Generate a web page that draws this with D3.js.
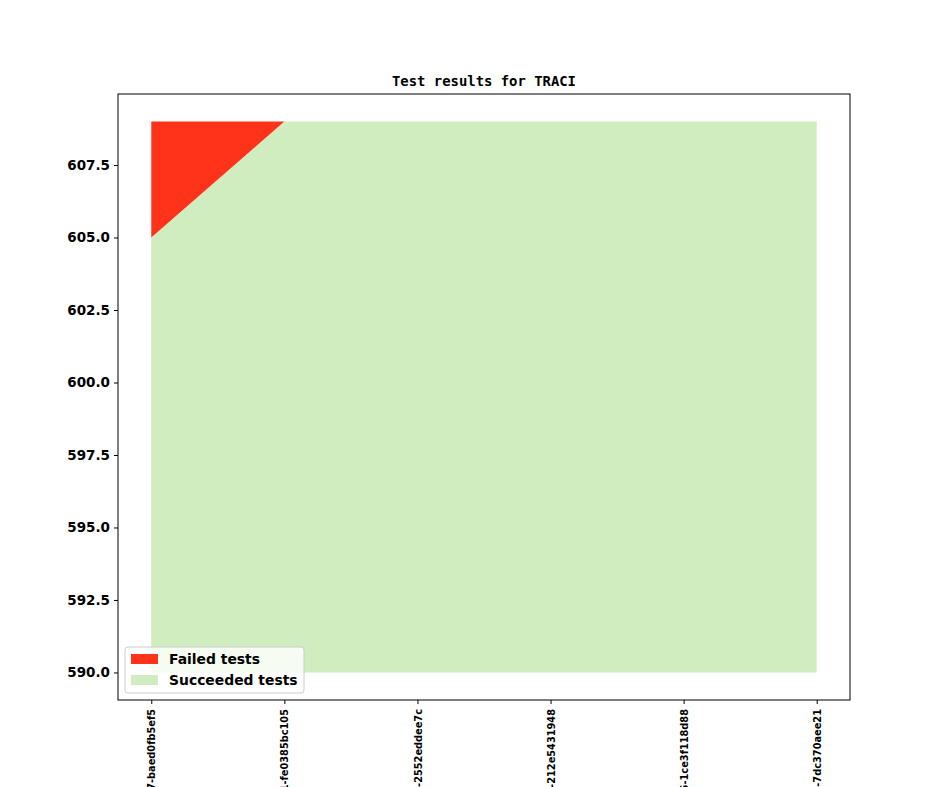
<!DOCTYPE html>
<html><head><meta charset="utf-8">
<script src="https://cdn.jsdelivr.net/npm/d3@7"></script>
<style>body{margin:0;background:#fff}</style>
</head><body>
<script>
const categories = ["v1_15_0+0117-baed0fb5ef5","v1_15_0+0131-fe0385bc105","v1_15_0+0148-2552eddee7c","v1_15_0+0162-212e5431948","v1_15_0+0175-1ce3f118d88","v1_15_0+0189-7dc370aee21"];
const succeeded = [605, 609, 609, 609, 609, 609];
const failed = [4, 0, 0, 0, 0, 0];
const baseline = 590;
const yTicks = [590.0, 592.5, 595.0, 597.5, 600.0, 602.5, 605.0, 607.5];
const seriesNames = ["Failed tests", "Succeeded tests"];
const colors = {failed: "#ff321a", succeeded: "#cfedbe"};

(function () {
const W = 944, H = 787;
const mL = 118, mR = 850, mT = 94, mB = 700;
const svg = d3.select("body").append("svg").attr("width", W).attr("height", H);

const n = categories.length;
const x = d3.scaleLinear().domain([-0.25, n - 1 + 0.25]).range([mL, mR]);
const yMin = baseline, yMax = d3.max(succeeded.map((s, i) => s + failed[i]));
const pad = (yMax - yMin) * 0.05;
const y = d3.scaleLinear().domain([yMin - pad, yMax + pad]).range([mB, mT]);

const idx = d3.range(n);
const areaSucc = d3.area().x(i => x(i)).y0(() => y(baseline)).y1(i => y(succeeded[i]));
const areaFail = d3.area().x(i => x(i)).y0(i => y(succeeded[i])).y1(i => y(succeeded[i] + failed[i]));

svg.append("path").datum(idx).attr("d", areaSucc).attr("fill", colors.succeeded);
svg.append("path").datum(idx).attr("d", areaFail).attr("fill", colors.failed);

svg.append("rect").attr("x", mL).attr("y", mT).attr("width", mR - mL).attr("height", mB - mT)
  .attr("fill", "none").attr("stroke", "#000").attr("stroke-width", 1);

const yAxis = d3.axisLeft(y).tickValues(yTicks).tickFormat(d3.format(".1f")).tickSize(4).tickPadding(4);
const gy = svg.append("g").attr("transform", `translate(${mL},0)`).call(yAxis);
gy.select(".domain").remove();
gy.selectAll("text").attr("font-family", "DejaVu Sans").attr("font-weight", "bold").attr("font-size", "13.5px").attr("fill", "#000");
gy.selectAll("line").attr("stroke", "#000");

const xAxis = d3.axisBottom(x).tickValues(idx).tickFormat(i => categories[i]).tickSize(4).tickPadding(0);
const gx = svg.append("g").attr("transform", `translate(0,${mB})`).call(xAxis);
gx.select(".domain").remove();
gx.selectAll("line").attr("stroke", "#000");
gx.selectAll("text")
  .attr("font-family", "DejaVu Sans").attr("font-weight", "bold").attr("font-size", "9.8px").attr("fill", "#000")
  .attr("text-anchor", "end").attr("dy", null).attr("y", 0)
  .attr("transform", "translate(3.6,9) rotate(-90)");

svg.append("text").attr("x", 484).attr("y", 86).attr("text-anchor", "middle")
  .attr("font-family", "DejaVu Sans Mono").attr("font-weight", "bold").attr("font-size", "13.9px")
  .text("Test results for TRACI");

const lg = svg.append("g").attr("transform", "translate(125,647)");
lg.append("rect").attr("width", 179).attr("height", 46).attr("rx", 3)
  .attr("fill", "#fff").attr("fill-opacity", 0.8).attr("stroke", "#ccc").attr("stroke-width", 1);
const legendItems = [{name: seriesNames[0], c: colors.failed}, {name: seriesNames[1], c: colors.succeeded}];
legendItems.forEach((d, i) => {
  lg.append("rect").attr("x", 6).attr("y", 7 + i * 21).attr("width", 27).attr("height", 10).attr("fill", d.c);
  lg.append("text").attr("x", 44).attr("y", 17 + i * 21).attr("font-family", "DejaVu Sans").attr("font-weight", "bold")
    .attr("font-size", "13.9px").attr("fill", "#000").text(d.name);
});
})();
</script>
</body></html>
